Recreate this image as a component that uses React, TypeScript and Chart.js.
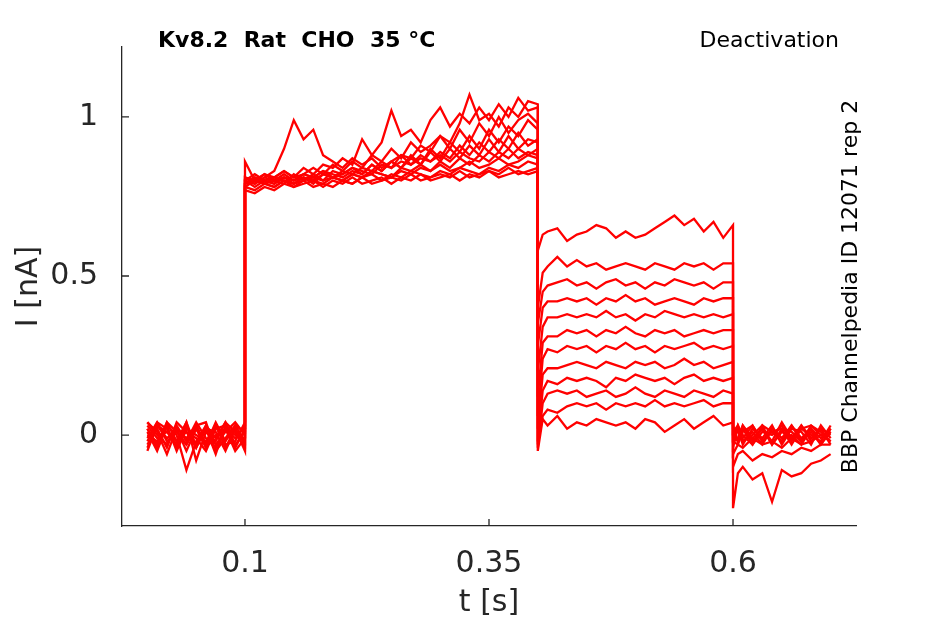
import React, { useEffect, useRef } from "react";
import { Chart, registerables } from "chart.js";

Chart.register(...registerables);

// sample times (s) for each protocol segment
const tPre = [0, 0.01, 0.02, 0.03, 0.04, 0.05, 0.06, 0.07, 0.08, 0.09, 0.1];
const tAct = [
  0.1, 0.11, 0.12, 0.13, 0.14, 0.15, 0.16, 0.17, 0.18, 0.19, 0.2, 0.21, 0.22, 0.23, 0.24, 0.25,
  0.26, 0.27, 0.28, 0.29, 0.3, 0.31, 0.32, 0.33, 0.34, 0.35, 0.36, 0.37, 0.38, 0.39, 0.4,
];
const tDeact = [
  0.4, 0.405, 0.41, 0.42, 0.43, 0.44, 0.45, 0.46, 0.47, 0.48, 0.49, 0.5, 0.51, 0.52, 0.53, 0.54,
  0.55, 0.56, 0.57, 0.58, 0.59, 0.6,
];
const tTail = [0.6, 0.605, 0.61, 0.62, 0.63, 0.64, 0.65, 0.66, 0.67, 0.68, 0.69, 0.7];

// current (nA), one row per sweep
const pre = [
  [0.02, -0.03, 0.04, -0.02, 0.01, -0.04, 0.03, -0.01, 0.04, -0.03, 0.01],
  [-0.04, 0.03, -0.01, 0.02, -0.05, 0.02, -0.03, 0.04, -0.02, 0.03, -0.02],
  [0.04, 0.0, -0.03, 0.03, -0.02, 0.04, -0.01, -0.04, 0.02, -0.01, 0.03],
  [-0.02, 0.04, 0.02, -0.04, 0.03, -0.03, 0.02, 0.01, -0.05, 0.02, -0.03],
  [0.01, -0.05, 0.03, 0.0, -0.11, -0.02, 0.03, -0.03, 0.01, 0.04, 0.0],
  [-0.03, 0.02, -0.04, 0.04, 0.01, -0.01, -0.05, 0.02, 0.03, -0.04, 0.02],
  [0.03, -0.01, 0.01, -0.03, 0.04, -0.08, 0.01, -0.02, 0.04, 0.01, -0.04],
  [-0.01, 0.04, -0.02, 0.01, -0.03, 0.03, 0.04, -0.05, -0.01, 0.03, 0.01],
  [0.0, -0.02, 0.03, -0.05, 0.02, 0.0, -0.02, 0.03, -0.03, -0.02, 0.04],
  [0.04, 0.01, -0.06, 0.02, -0.01, 0.03, -0.03, 0.0, 0.02, -0.05, -0.01],
  [-0.05, 0.03, 0.01, -0.02, 0.04, -0.04, 0.02, -0.06, 0.03, 0.0, 0.02],
  [0.02, -0.04, 0.04, 0.01, -0.03, 0.02, -0.04, 0.03, -0.04, 0.02, -0.05],
];

const act = [
  [0.8, 0.78, 0.8, 0.79, 0.81, 0.79, 0.8, 0.82, 0.8, 0.81, 0.8, 0.82, 0.81, 0.83, 0.82, 0.81, 0.84, 0.83, 0.85, 0.83, 0.86, 0.84, 0.87, 0.85, 0.88, 0.86, 0.89, 0.87, 0.9, 0.88, 0.9],
  [0.79, 0.81, 0.79, 0.8, 0.82, 0.8, 0.81, 0.79, 0.82, 0.81, 0.83, 0.82, 0.84, 0.83, 0.86, 0.84, 0.88, 0.87, 0.91, 0.89, 0.94, 0.92, 0.98, 1.07, 0.99, 1.01, 0.97, 1.03, 1.0, 1.05, 1.04],
  [0.78, 0.8, 0.79, 0.78, 0.8, 0.79, 0.81, 0.8, 0.79, 0.81, 0.8, 0.79, 0.81, 0.82, 0.8, 0.82, 0.81, 0.83, 0.82, 0.81, 0.83, 0.82, 0.84, 0.83, 0.82, 0.84, 0.83, 0.85, 0.84, 0.86, 0.85],
  [0.81, 0.79, 0.81, 0.8, 0.79, 0.82, 0.8, 0.81, 0.83, 0.81, 0.82, 0.84, 0.82, 0.85, 0.83, 0.86, 0.84, 0.88, 0.85, 0.9, 0.87, 0.92, 0.89, 0.94, 0.9, 0.96, 0.92, 0.97, 0.94, 0.99, 0.96],
  [0.77, 0.76, 0.78, 0.77, 0.79, 0.78, 0.8, 0.78, 0.79, 0.78, 0.8, 0.79, 0.81, 0.79, 0.8, 0.81, 0.8, 0.82, 0.8, 0.81, 0.82, 0.81, 0.83, 0.81, 0.82, 0.83, 0.82, 0.84, 0.82, 0.83, 0.84],
  [0.8, 0.82, 0.8, 0.81, 0.83, 0.81, 0.84, 0.82, 0.85, 0.84, 0.87, 0.85, 0.93, 0.88, 0.92, 1.02, 0.94, 0.96, 0.92, 0.99, 1.03, 0.97, 1.01, 0.98, 1.03, 0.99, 1.04, 1.0, 1.06, 1.02, 1.03],
  [0.8, 0.79, 0.81, 0.83, 0.9, 0.99, 0.93, 0.96, 0.88, 0.86, 0.84, 0.87, 0.85, 0.87, 0.84, 0.86, 0.88, 0.85, 0.87, 0.86, 0.88, 0.86, 0.89, 0.87, 0.86, 0.89, 0.87, 0.9, 0.87, 0.89, 0.88],
  [0.79, 0.8, 0.82, 0.8, 0.81, 0.8, 0.82, 0.81, 0.8, 0.83, 0.82, 0.84, 0.83, 0.82, 0.85, 0.84, 0.86, 0.85, 0.88, 0.86, 0.89, 0.87, 0.91, 0.88, 0.92, 0.89, 0.93, 0.9, 0.95, 0.91, 0.93],
  [0.78, 0.77, 0.79, 0.78, 0.8, 0.78, 0.79, 0.8, 0.78, 0.8, 0.79, 0.81, 0.79, 0.8, 0.81, 0.79, 0.81, 0.8, 0.82, 0.8, 0.81, 0.82, 0.8, 0.82, 0.81, 0.83, 0.81, 0.82, 0.83, 0.82, 0.83],
  [0.81, 0.8, 0.82, 0.81, 0.83, 0.81, 0.82, 0.84, 0.82, 0.85, 0.83, 0.86, 0.84, 0.88, 0.86, 0.9, 0.87, 0.92, 0.89, 0.91, 0.94, 0.9, 0.96, 0.92, 0.98, 0.94, 1.0, 0.95, 0.99, 1.01, 0.98],
  [0.86, 0.8, 0.79, 0.81, 0.8, 0.79, 0.81, 0.8, 0.82, 0.81, 0.8, 0.82, 0.81, 0.83, 0.82, 0.81, 0.83, 0.82, 0.84, 0.83, 0.85, 0.83, 0.84, 0.86, 0.84, 0.85, 0.87, 0.85, 0.86, 0.88, 0.87],
  [0.79, 0.81, 0.8, 0.79, 0.81, 0.8, 0.82, 0.81, 0.83, 0.82, 0.81, 0.83, 0.82, 0.85, 0.83, 0.86, 0.84, 0.87, 0.85, 0.89, 0.86, 0.9, 0.87, 0.91, 0.88, 0.93, 0.89, 0.94, 0.9, 0.93, 0.92],
];

const deact = [
  [0.58, 0.63, 0.64, 0.65, 0.61, 0.63, 0.64, 0.66, 0.65, 0.62, 0.64, 0.62, 0.63, 0.65, 0.67, 0.69, 0.66, 0.68, 0.64, 0.67, 0.62, 0.66],
  [0.4, 0.51, 0.53, 0.56, 0.53, 0.55, 0.53, 0.54, 0.52, 0.53, 0.54, 0.53, 0.52, 0.54, 0.53, 0.52, 0.54, 0.53, 0.54, 0.52, 0.54, 0.54],
  [0.35, 0.45, 0.47, 0.48, 0.49, 0.47, 0.48, 0.46, 0.48, 0.49, 0.47, 0.48, 0.46, 0.48, 0.47, 0.49, 0.48, 0.47, 0.48, 0.46, 0.48, 0.48],
  [0.28, 0.4, 0.42, 0.42, 0.43, 0.42, 0.43, 0.41, 0.43, 0.42, 0.44, 0.42, 0.43, 0.41, 0.42, 0.43, 0.42, 0.41, 0.43, 0.42, 0.43, 0.43],
  [0.2, 0.34, 0.37, 0.37, 0.38, 0.37, 0.38, 0.37, 0.39, 0.37, 0.38, 0.36, 0.38, 0.37, 0.39, 0.38, 0.37, 0.38, 0.37, 0.38, 0.37, 0.38],
  [0.12, 0.29, 0.31, 0.31, 0.33, 0.32, 0.33, 0.31, 0.33, 0.32, 0.34, 0.32, 0.31, 0.33, 0.32, 0.33, 0.31, 0.32, 0.33, 0.32, 0.33, 0.33],
  [0.06, 0.24, 0.27, 0.26, 0.28, 0.27, 0.28, 0.26, 0.28, 0.27, 0.29, 0.27, 0.28, 0.26, 0.28, 0.27, 0.28, 0.29, 0.27, 0.28, 0.27, 0.28],
  [0.02, 0.19, 0.21, 0.21, 0.22, 0.23, 0.22, 0.21, 0.23, 0.22, 0.21, 0.23, 0.22, 0.23, 0.21, 0.22, 0.24, 0.22, 0.23, 0.21, 0.22, 0.23],
  [-0.02, 0.14, 0.17, 0.16, 0.18, 0.17, 0.18, 0.17, 0.15, 0.18, 0.17, 0.19, 0.18, 0.17, 0.18, 0.16, 0.18, 0.19, 0.17, 0.18, 0.17, 0.18],
  [-0.04, 0.1, 0.13, 0.14, 0.13, 0.14, 0.12, 0.13, 0.14, 0.12, 0.13, 0.15, 0.13, 0.12, 0.14, 0.13, 0.12, 0.14, 0.13, 0.12, 0.14, 0.13],
  [-0.03, 0.06, 0.08, 0.07, 0.09, 0.1, 0.09, 0.1, 0.08, 0.1, 0.09, 0.1, 0.09, 0.11, 0.09, 0.1, 0.09, 0.1, 0.11, 0.09, 0.1, 0.1],
  [-0.05, 0.05, 0.03, 0.06, 0.02, 0.04, 0.03, 0.05, 0.04, 0.03, 0.04, 0.02, 0.05, 0.04, 0.01, 0.03, 0.05, 0.02, 0.04, 0.06, 0.03, 0.04],
];

const tail = [
  [-0.23, -0.12, -0.1, -0.14, -0.12, -0.21, -0.11, -0.13, -0.12, -0.09, -0.08, -0.06],
  [-0.1, -0.06, -0.05, -0.08, -0.06, -0.07, -0.05, -0.06, -0.04, -0.05, -0.03, -0.03],
  [-0.06, -0.03, -0.04, -0.01, -0.03, -0.02, -0.04, -0.01, -0.03, -0.02, 0.0, -0.02],
  [-0.03, 0.02, -0.02, 0.01, -0.03, 0.02, -0.01, 0.03, -0.02, 0.01, -0.03, 0.02],
  [-0.02, -0.01, 0.03, -0.02, 0.02, -0.03, 0.01, -0.01, 0.03, -0.02, 0.02, 0.0],
  [-0.04, 0.03, 0.0, -0.03, 0.03, 0.01, -0.02, 0.03, -0.01, 0.02, -0.03, 0.01],
  [-0.01, 0.02, -0.03, 0.02, -0.01, 0.03, -0.03, 0.02, 0.01, -0.03, 0.03, -0.01],
  [-0.02, -0.03, 0.01, 0.03, -0.02, 0.01, 0.02, -0.03, 0.02, 0.0, -0.02, 0.03],
  [0.01, 0.03, -0.02, 0.0, 0.03, -0.03, 0.02, 0.01, -0.02, 0.03, 0.01, -0.02],
  [0.0, -0.02, 0.02, -0.03, 0.01, 0.0, 0.03, -0.02, 0.03, -0.01, 0.02, -0.03],
  [0.02, 0.01, -0.01, 0.03, -0.02, 0.02, -0.01, 0.0, -0.03, 0.02, -0.01, 0.02],
  [0.03, -0.02, 0.03, -0.01, 0.02, -0.02, 0.04, -0.01, 0.02, 0.03, 0.0, 0.01],
];

const xTicks = [0.1, 0.35, 0.6];
const yTicks = [0, 0.5, 1];

const titleText = "Kv8.2  Rat  CHO  35 °C";
const protocolText = "Deactivation";
const sourceText = "BBP Channelpedia ID 12071 rep 2";

const AXIS = "#262626";
const FONT = "'DejaVu Sans', sans-serif";

const decorPlugin = {
  id: "decor",
  afterDraw(chart: Chart) {
    const { ctx, chartArea, scales } = chart;
    ctx.save();
    // inward tick marks, MATLAB style
    ctx.strokeStyle = AXIS;
    ctx.lineWidth = 1.3;
    ctx.beginPath();
    xTicks.forEach((v) => {
      const px = scales.x.getPixelForValue(v);
      ctx.moveTo(px, chartArea.bottom);
      ctx.lineTo(px, chartArea.bottom - 7);
    });
    yTicks.forEach((v) => {
      const py = scales.y.getPixelForValue(v);
      ctx.moveTo(chartArea.left, py);
      ctx.lineTo(chartArea.left + 7, py);
    });
    ctx.stroke();

    ctx.fillStyle = "#000";
    ctx.textBaseline = "alphabetic";
    ctx.font = `bold 22px ${FONT}`;
    ctx.textAlign = "left";
    ctx.fillText(titleText, 158, 47);
    ctx.font = `22px ${FONT}`;
    ctx.textAlign = "right";
    ctx.fillText(protocolText, 839, 47);

    ctx.translate(857, (chartArea.top + chartArea.bottom) / 2);
    ctx.rotate(-Math.PI / 2);
    ctx.textAlign = "center";
    ctx.fillText(sourceText, 0, 0);
    ctx.restore();
  },
};

const App = () => {
  const chartRef = useRef<HTMLCanvasElement>(null);
  const chartInstance = useRef<Chart>();

  useEffect(() => {
    if (chartInstance.current) {
      chartInstance.current.destroy();
    }
    const ctx = chartRef.current?.getContext("2d");
    if (!ctx) return;

    const datasets = pre.map((_, i) => ({
      data: [
        ...tPre.map((t, k) => ({ x: t, y: pre[i][k] })),
        ...tAct.map((t, k) => ({ x: t, y: act[i][k] })),
        ...tDeact.map((t, k) => ({ x: t, y: deact[i][k] })),
        ...tTail.map((t, k) => ({ x: t, y: tail[i][k] })),
      ],
      borderColor: "#ff0000",
      borderWidth: 2.3,
      pointRadius: 0,
      tension: 0,
      fill: false,
    }));

    chartInstance.current = new Chart(ctx, {
      type: "line",
      data: { datasets },
      options: {
        animation: false,
        responsive: false,
        events: [],
        layout: { padding: { top: 47, right: 89, left: 0, bottom: 0 } },
        plugins: { legend: { display: false }, tooltip: { enabled: false } },
        scales: {
          x: {
            type: "linear",
            min: -0.026,
            max: 0.726,
            grid: { display: false },
            border: { display: true, color: AXIS, width: 1.3 },
            afterBuildTicks: (axis: any) => {
              axis.ticks = xTicks.map((v) => ({ value: v }));
            },
            afterFit: (scale: any) => {
              scale.height = 98;
            },
            ticks: {
              color: AXIS,
              padding: 12,
              maxRotation: 0,
              font: { family: FONT, size: 30 },
              callback: (v: any) => String(v),
            },
            title: {
              display: true,
              text: "t [s]",
              color: AXIS,
              padding: { bottom: 3 },
              font: { family: FONT, size: 30 },
            },
          },
          y: {
            type: "linear",
            min: -0.286,
            max: 1.22,
            grid: { display: false },
            border: { display: true, color: AXIS, width: 1.3 },
            afterBuildTicks: (axis: any) => {
              axis.ticks = yTicks.map((v) => ({ value: v }));
            },
            afterFit: (scale: any) => {
              scale.width = 122;
            },
            ticks: {
              color: AXIS,
              padding: 16,
              font: { family: FONT, size: 30 },
              callback: (v: any) => String(v),
            },
            title: {
              display: true,
              text: "I [nA]",
              color: AXIS,
              padding: { top: 11 },
              font: { family: FONT, size: 30 },
            },
          },
        },
      },
      plugins: [decorPlugin],
    });

    return () => {
      if (chartInstance.current) {
        chartInstance.current.destroy();
      }
    };
  }, []);

  return (
    <div style={{ position: "absolute", left: 0, top: 0, width: 945, height: 624, background: "#fff" }}>
      <canvas ref={chartRef} width={945} height={624} style={{ width: "945px", height: "624px" }} />
    </div>
  );
};

export default App;
